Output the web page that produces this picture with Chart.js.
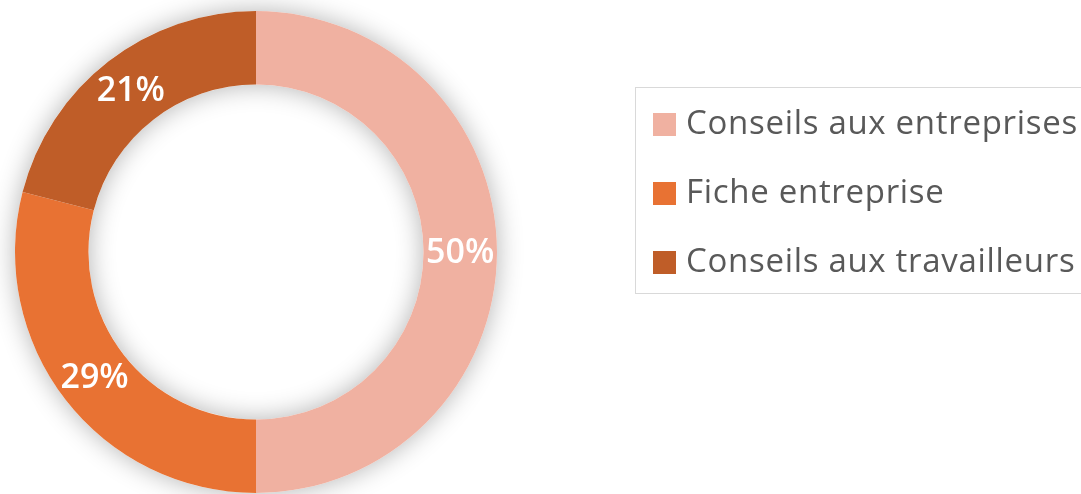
<!DOCTYPE html>
<html>
<head>
<meta charset="utf-8">
<script src="https://cdn.jsdelivr.net/npm/chart.js@4"></script>
<style>
  html, body { margin: 0; padding: 0; background: #fff; overflow: hidden; }
  #wrap { position: relative; width: 1081px; height: 494px; }
  #legend {
    position: absolute; left: 635px; top: 87px; width: 470px; height: 207px;
    border: 1px solid #d9d9d9; box-sizing: border-box;
    font-family: "Open Sans", sans-serif; font-size: 33px; letter-spacing: 0.7px; color: #595959;
  }
  .item { position: absolute; left: 17px; height: 34px; line-height: 34px; white-space: nowrap; }
  .sw { display: inline-block; width: 23px; height: 23px; vertical-align: -2px; margin-right: 10px; }
</style>
</head>
<body>
<div id="wrap">
  <canvas id="donut" width="1081" height="494"></canvas>
  <div id="legend"></div>
</div>
<script>
// categories + values
var labels = ["Conseils aux entreprises", "Fiche entreprise", "Conseils aux travailleurs"];
var values = [50, 29, 21];
var colors = ['rgb(240, 177, 161)', 'rgb(232, 114, 51)', 'rgb(191, 93, 40)'];

// soft shadow under the ring, drawn before the slices
var ringShadow = {
  id: 'ringShadow',
  beforeDatasetsDraw: function (chart) {
    var arc = chart.getDatasetMeta(0).data[0];
    if (!arc) return;
    var ctx = chart.ctx;
    ctx.save();
    ctx.shadowColor = 'rgba(0,0,0,0.3)';
    ctx.shadowBlur = 26;
    ctx.fillStyle = '#fff';
    ctx.beginPath();
    ctx.arc(arc.x, arc.y, arc.outerRadius, 0, Math.PI * 2);
    ctx.arc(arc.x, arc.y, arc.innerRadius, 0, Math.PI * 2, true);
    ctx.fill();
    ctx.restore();
  }
};

// percentage labels in the middle of each slice
var sliceLabels = {
  id: 'sliceLabels',
  afterDatasetsDraw: function (chart) {
    var ctx = chart.ctx;
    var total = values.reduce(function (a, b) { return a + b; }, 0);
    ctx.save();
    ctx.fillStyle = '#fff';
    ctx.font = '600 34px "Open Sans", sans-serif';
    ctx.textAlign = 'center';
    ctx.textBaseline = 'middle';
    chart.getDatasetMeta(0).data.forEach(function (el, i) {
      var p = el.tooltipPosition();
      ctx.fillText(Math.round(values[i] / total * 100) + '%', p.x, p.y + 1);
    });
    ctx.restore();
  }
};

var chartOne = document.getElementById('donut').getContext('2d');
var myChart = new Chart(chartOne, {
    type: 'doughnut',
    data: {
        labels: labels,
        datasets: [{
            data: values,
            backgroundColor: colors,
            borderColor: colors,
            borderWidth: 0
        }]
    },
    options: {
        responsive: false,
        animation: false,
        cutout: '69.5%',
        layout: { padding: { left: 15, top: 11, right: 584, bottom: 1 } },
        plugins: {
            legend: { display: false },
            tooltip: { enabled: false }
        }
    },
    plugins: [ringShadow, sliceLabels]
});

// legend box on the right
var legend = document.getElementById('legend');
var rowTops = [17, 86, 155];
labels.forEach(function (name, i) {
    var row = document.createElement('div');
    row.className = 'item';
    row.style.top = rowTops[i] + 'px';
    row.innerHTML = '<span class="sw" style="background:' + colors[i] + '"></span>' + name;
    legend.appendChild(row);
});
</script>
</body>
</html>
